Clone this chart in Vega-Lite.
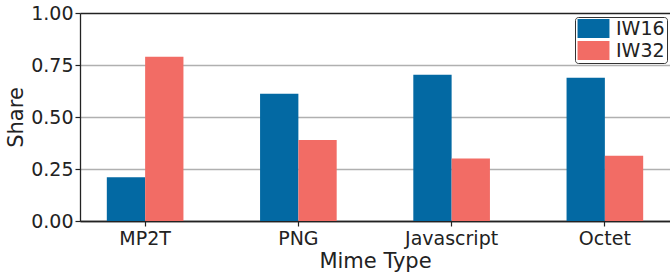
{
  "$schema": "https://vega.github.io/schema/vega-lite/v6.json",
  "width": 590,
  "height": 208,
  "autosize": "none",
  "padding": {"left": 80, "top": 13, "right": 0, "bottom": 55},
  "background": "white",
  "config": {"view": {"stroke": null}, "font": "DejaVu Sans"},
  "data": {
    "values": [
      {"mime": "MP2T", "week": "IW16", "share": 0.21},
      {"mime": "MP2T", "week": "IW32", "share": 0.79},
      {"mime": "PNG", "week": "IW16", "share": 0.612},
      {"mime": "PNG", "week": "IW32", "share": 0.39},
      {"mime": "Javascript", "week": "IW16", "share": 0.703},
      {"mime": "Javascript", "week": "IW32", "share": 0.30},
      {"mime": "Octet", "week": "IW16", "share": 0.689},
      {"mime": "Octet", "week": "IW32", "share": 0.314}
    ]
  },
  "mark": {"type": "bar"},
  "encoding": {
    "x": {
      "field": "mime",
      "type": "nominal",
      "sort": ["MP2T", "PNG", "Javascript", "Octet"],
      "scale": {"paddingInner": 0.5, "paddingOuter": 0.175},
      "title": "Mime Type",
      "axis": {
        "labelAngle": 0,
        "domainColor": "#222222",
        "domainWidth": 1.3,
        "tickColor": "#222222",
        "tickWidth": 1.2,
        "tickSize": 5,
        "labelColor": "#222222",
        "labelFontSize": 19,
        "labelPadding": 3,
        "titleColor": "#222222",
        "titleFontSize": 21,
        "titleFontWeight": "normal",
        "titlePadding": 2
      }
    },
    "xOffset": {
      "field": "week",
      "type": "nominal",
      "scale": {"paddingInner": 0, "paddingOuter": 0}
    },
    "y": {
      "field": "share",
      "type": "quantitative",
      "scale": {"domain": [0, 1], "nice": false},
      "title": "Share",
      "axis": {
        "values": [0, 0.25, 0.5, 0.75, 1],
        "format": ".2f",
        "grid": true,
        "gridColor": {"condition": {"test": "datum.value === 1 || datum.value === 0", "value": "#222222"}, "value": "#b0b0b0"},
        "gridWidth": 1.3,
        "domainColor": "#222222",
        "domainWidth": 1.3,
        "tickColor": "#222222",
        "tickWidth": 1.2,
        "tickSize": 5,
        "labelColor": "#222222",
        "labelFontSize": 19,
        "labelPadding": 2,
        "titleColor": "#222222",
        "titleFontSize": 21,
        "titleFontWeight": "normal",
        "titlePadding": 4
      }
    },
    "color": {
      "field": "week",
      "type": "nominal",
      "scale": {"domain": ["IW16", "IW32"], "range": ["#0369a3", "#f26c65"]},
      "legend": {
        "title": null,
        "orient": "none",
        "legendX": 495,
        "legendY": 4,
        "symbolType": "M-1.68,-1L1.68,-1L1.68,1L-1.68,1Z",
        "symbolSize": 361,
        "symbolOffset": 7,
        "symbolStrokeWidth": 0,
        "symbolOpacity": 1,
        "labelFontSize": 19,
        "labelColor": "#222222",
        "labelOffset": 13,
        "rowPadding": 2,
        "fillColor": "white",
        "strokeColor": "#333333",
        "cornerRadius": 3,
        "padding": 2
      }
    }
  }
}
